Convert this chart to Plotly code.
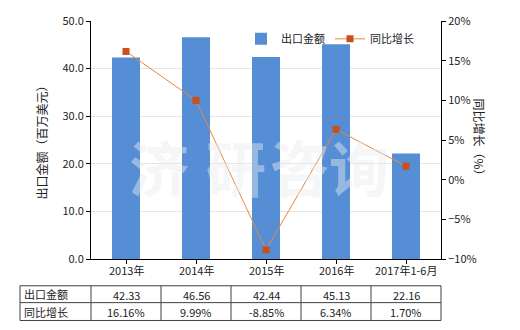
import plotly.graph_objects as go

categories = ["2013年", "2014年", "2015年", "2016年", "2017年1-6月"]
export_values = [42.33, 46.56, 42.44, 45.13, 22.16]
growth_values = [16.16, 9.99, -8.85, 6.34, 1.70]
export_labels = ["42.33", "46.56", "42.44", "45.13", "22.16"]
growth_labels = ["16.16%", "9.99%", "-8.85%", "6.34%", "1.70%"]
row_names = ["出口金额", "同比增长"]

FONT = "Noto Sans CJK SC, Noto Sans, sans-serif"
W, H = 520, 330
L, R, T, B = 91, 441, 19, 259


def px(x):
    return (x - L) / (R - L)


def py(y):
    return (B - y) / (B - T)


fig = go.Figure()
fig.add_trace(go.Bar(
    x=list(range(len(categories))), y=export_values, name="出口金额",
    marker=dict(color="#558ED5", line=dict(width=0)), width=0.4, yaxis="y",
))
fig.add_trace(go.Scatter(
    x=list(range(len(categories))), y=growth_values, name="同比增长", yaxis="y2",
    mode="lines+markers", line=dict(color="#E8883A", width=1),
    marker=dict(symbol="square", size=7, color="#C9501C"),
))

n = len(categories)
shapes = []
# table lines
col_edges = [20] + [L + i * (R - L) / n for i in range(n + 1)]
row_y = [286, 303, 321]
for yy in row_y:
    shapes.append(dict(type="line", xref="paper", yref="paper", x0=px(20), x1=px(R),
                       y0=py(yy), y1=py(yy), line=dict(color="#404040", width=1)))
for xx in col_edges:
    shapes.append(dict(type="line", xref="paper", yref="paper", x0=px(xx), x1=px(xx),
                       y0=py(row_y[0]), y1=py(row_y[-1]), line=dict(color="#404040", width=1)))

annotations = []
# watermark
for ch, cx in zip(["济", "研", "咨", "询"], [128, 205, 300, 390]):
    annotations.append(dict(text=ch, xref="paper", yref="paper", x=px(cx), y=py(165),
                            showarrow=False, borderpad=0,
                            font=dict(size=60, color="rgba(232,234,240,0.45)", family=FONT, weight="bold")))
# category labels
for i, c in enumerate(categories):
    annotations.append(dict(text=c, xref="x", yref="paper", x=i, y=py(270), showarrow=False,
                            font=dict(size=11, color="#222", family=FONT), yanchor="middle"))
    annotations.append(dict(text=export_labels[i], xref="x", yref="paper", x=i, y=py(295), showarrow=False,
                            font=dict(size=11, color="#222", family=FONT), yanchor="middle"))
    annotations.append(dict(text=growth_labels[i], xref="x", yref="paper", x=i, y=py(312.5), showarrow=False,
                            font=dict(size=11, color="#222", family=FONT), yanchor="middle"))
for j, rn in enumerate(row_names):
    annotations.append(dict(text=rn, xref="paper", yref="paper", x=px(22), y=py([294, 312][j]),
                            xanchor="left", yanchor="middle", showarrow=False,
                            font=dict(size=11, color="#222", family=FONT)))
# axis titles
annotations.append(dict(text="出口金额（百万美元）", xref="paper", yref="paper", x=px(30), y=py(139),
                        textangle=-90, showarrow=False, font=dict(size=12, color="#222", family=FONT)))
annotations.append(dict(text="同比增长（%）", xref="paper", yref="paper", x=px(490), y=py(139),
                        textangle=90, showarrow=False, font=dict(size=12, color="#222", family=FONT)))

fig.update_layout(
    width=W, height=H, margin=dict(l=L, r=W - R, t=T, b=H - B),
    paper_bgcolor="white", plot_bgcolor="white",
    font=dict(family=FONT, size=11, color="#222"),
    showlegend=True,
    legend=dict(orientation="h", x=px(241), y=py(37), xanchor="left", yanchor="middle",
                bgcolor="rgba(0,0,0,0)", font=dict(size=11, family=FONT), itemwidth=30),
    xaxis=dict(range=[-0.5, n - 0.5], tickvals=list(range(n)), ticktext=[""] * n,
               showline=True, linecolor="black", linewidth=1, ticks="outside", ticklen=4,
               tickcolor="black", showgrid=False, zeroline=False, fixedrange=True),
    yaxis=dict(range=[0, 50], dtick=10, tickformat=".1f", showline=True, linecolor="black",
               ticks="outside", ticklen=4, tickcolor="black", gridcolor="#e6e6e6", zeroline=False),
    yaxis2=dict(range=[-10, 20], dtick=5, ticksuffix="%", overlaying="y", side="right",
                showline=True, linecolor="black", ticks="outside", ticklen=4, tickcolor="black",
                showgrid=False, zeroline=False),
    shapes=shapes, annotations=annotations, bargap=0.6,
)
fig.write_html("out.html")
